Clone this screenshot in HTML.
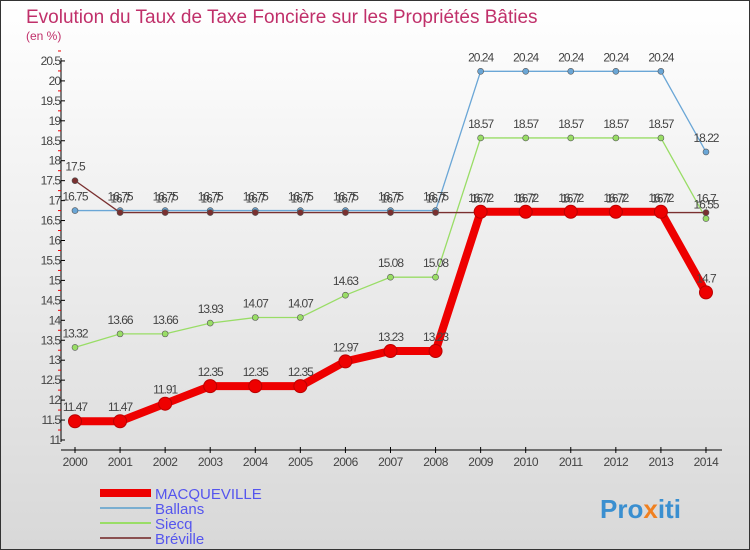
<!DOCTYPE html>
<html><head><meta charset="utf-8"><style>
body{margin:0}
#c{width:750px;height:550px;position:relative;overflow:hidden;box-sizing:border-box;border:1px solid #333;background:linear-gradient(#fff,#d8d8d8);font-family:"Liberation Sans",sans-serif}
</style></head><body>
<div id="c">
<svg id="s" width="750" height="550" style="position:absolute;left:-1px;top:-1px">
<text x="26" y="23" font-size="19" fill="#c0306a">Evolution du Taux de Taxe Foncière sur les Propriétés Bâties</text>
<text x="26" y="40" font-size="12" fill="#c0306a">(en %)</text>
<g id="g"></g>
<text x="600" y="518" font-size="26" font-weight="bold" fill="#3a8fd0">Pro<tspan fill="#f08020">x</tspan>iti</text>
</svg>
</div>
<script>
const years=[2000,2001,2002,2003,2004,2005,2006,2007,2008,2009,2010,2011,2012,2013,2014];
const macqueville=[11.47,11.47,11.91,12.35,12.35,12.35,12.97,13.23,13.23,16.72,16.72,16.72,16.72,16.72,14.7];
const ballans=[16.75,16.75,16.75,16.75,16.75,16.75,16.75,16.75,16.75,20.24,20.24,20.24,20.24,20.24,18.22];
const siecq=[13.32,13.66,13.66,13.93,14.07,14.07,14.63,15.08,15.08,18.57,18.57,18.57,18.57,18.57,16.55];
const breville=[17.5,16.7,16.7,16.7,16.7,16.7,16.7,16.7,16.7,16.7,16.7,16.7,16.7,16.7,16.7];
const yTicks=[11,11.5,12,12.5,13,13.5,14,14.5,15,15.5,16,16.5,17,17.5,18,18.5,19,19.5,20,20.5];
const NS="http://www.w3.org/2000/svg";
const g=document.getElementById('g');
const X=i=>75+i*45.07;
const Y=v=>440-(v-11)*39.9;
function el(t,a,p){const e=document.createElementNS(NS,t);for(const k in a)e.setAttribute(k,a[k]);(p||g).appendChild(e);return e;}
// axes
let ax=el('line',{x1:61,y1:58,x2:61,y2:442,stroke:'#000'});


let bx=el('line',{x1:61,y1:450,x2:722,y2:450,stroke:'#000'});


yTicks.forEach(v=>{
 el('line',{x1:61,y1:Y(v),x2:65,y2:Y(v),stroke:'#000'});
 el('line',{x1:58,y1:Y(v+0.25),x2:61,y2:Y(v+0.25),stroke:'#e00'});
 const t=el('text',{x:60,y:Y(v)+4,'font-size':12,'text-anchor':'end',fill:'#444','letter-spacing':'-1'});
 t.textContent=String(v);
 
 
});
years.forEach((yr,i)=>{
 el('line',{x1:X(i),y1:447,x2:X(i),y2:453,stroke:'#000'});
 const t=el('text',{x:X(i),y:466,'font-size':12,'text-anchor':'middle',fill:'#444','letter-spacing':'-0.5'});
 t.textContent=yr;
 
 
});
function series(data,color,w,r,name,labels){
 const p=el('polyline',{points:data.map((v,i)=>X(i)+','+Y(v)).join(' '),fill:'none',stroke:color,'stroke-width':w});
 
 
 data.forEach((v,i)=>{
  const c=el('circle',{cx:X(i),cy:Y(v),r:r,fill:color,stroke:w>3?'#b00':'#555','stroke-width':w>3?1:0.6});
  
  
  if(labels){const t=el('text',{x:X(i),y:Y(v)-10,'font-size':12,'text-anchor':'middle',fill:'#444','letter-spacing':'-1'});
  t.textContent=String(v);
  
  }
 });
}
series(ballans,'#6aa6d6',1.3,3,'ballans',true);
series(siecq,'#99dd66',1.3,3,'siecq',true);
series(breville,'#7a3030',1.3,3,'breville',true);
series(macqueville,'#ee0000',8,6.5,'macqueville',true);
// legend
const leg=[['MACQUEVILLE','#ee0000',8],['Ballans','#7aaed0',2],['Siecq','#99dd66',2],['Bréville','#8a5050',2]];
leg.forEach((l,i)=>{
 const y=493+i*15;
 const ln=el('line',{x1:100,y1:y,x2:151,y2:y,stroke:l[1],'stroke-width':l[2]});
 
 
 const t=el('text',{x:155,y:y+6,'font-size':15,fill:'#5555ee'});
 t.textContent=l[0];
 
 
});
</script>
</body></html>
